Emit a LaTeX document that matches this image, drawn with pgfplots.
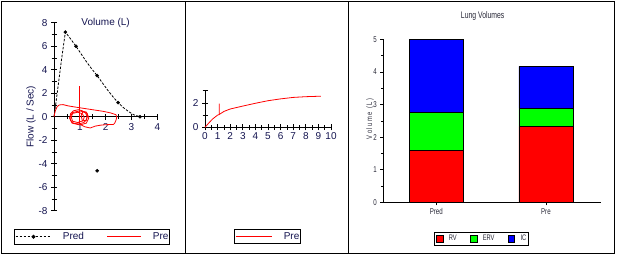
\documentclass[border=0pt]{standalone}
\usepackage{pgfplots}
\pgfplotsset{compat=1.18}
\usepackage{fontspec}
\setmainfont{Liberation Sans}
\newfontfamily\narrowfont[FakeStretch=0.72]{Liberation Sans}
\newfontfamily\spacedfont[FakeStretch=0.72,LetterSpace=20]{Liberation Sans}
\definecolor{txt}{RGB}{20,20,80}
\definecolor{txtb}{RGB}{40,40,55}
\definecolor{pr}{RGB}{255,0,0}
\definecolor{pg}{RGB}{0,255,0}
\definecolor{pb}{RGB}{0,0,255}
\begin{document}
\begin{tikzpicture}
\useasboundingbox (0pt,0pt) rectangle (617pt,255pt);
\draw[line width=1pt] (1.5pt,1.5pt) rectangle (614.5pt,253.5pt);
\draw[line width=1pt] (185.5pt,1.5pt) -- (185.5pt,253.5pt);
\draw[line width=1pt] (348.5pt,1.5pt) -- (348.5pt,253.5pt);

% ---------------- Panel 1: flow-volume ----------------
\begin{axis}[
  at={(54pt,44.3pt)}, anchor=south west, scale only axis,
  width=103.3pt, height=188pt,
  xmin=0, xmax=4, ymin=-8, ymax=8,
  axis lines=middle, axis line style={-,black,line width=0.8pt},
  xtick={1,2,3,4}, minor xtick={0.5,1.5,2.5,3.5},
  ytick={-8,-6,...,8}, minor ytick={-7,-5,...,7},
  hide obscured x ticks=false, hide obscured y ticks=false,
  tick align=center, major tick length=6pt, minor tick length=5pt,
  tick style={black,line width=0.8pt},
  ticklabel style={font=\fontsize{10}{12}\selectfont, text=txt},
  /pgf/number format/assume math mode=true,
  every axis title shift=0pt,
  title={Volume (L)},
  title style={at={(axis description cs:0.5,1)}, anchor=center, yshift=-0.5pt,
    font=\fontsize{10}{12}\selectfont, text=txt},
  ylabel={Flow (L / Sec)},
  every axis y label/.style={at={(axis description cs:-0.2227,0.5)}, rotate=90,
    anchor=center, font=\fontsize{10}{12}\selectfont, text=txt},
  clip=false,
  legend columns=2,
  legend style={at={(axis description cs:-0.387,-0.097)}, anchor=north west,
    draw=black, line width=0.8pt, inner xsep=0.7pt, inner ysep=3pt,
    font=\fontsize{10}{12}\selectfont, text=txt, nodes={inner sep=0pt},
    /tikz/every odd column/.append style={column sep=11pt},
    /tikz/every even column/.append style={column sep=23pt}},
]
\addplot[black, line width=0.8pt, dash pattern=on 2.5pt off 1.5pt, forget plot]
  coordinates {(0,0) (0.1,1.6) (0.2,3.3) (0.3,5.0) (0.44,7.2) (0.65,6.6) (0.85,6.0)
  (1.05,5.35) (1.25,4.7) (1.45,4.1) (1.67,3.5) (1.9,2.8) (2.1,2.2) (2.3,1.65)
  (2.48,1.2) (2.7,0.75) (2.9,0.42) (3.1,0.15) (3.33,0)};
\addplot[black, only marks, mark=*, mark size=1.6pt,
  legend image code/.code={\draw[black,line width=0.8pt,dash pattern=on 2.5pt off 1.5pt] (0pt,0pt) -- (36pt,0pt);
    \fill[black] (18pt,0pt) circle (1.6pt);}]
  coordinates {(0.44,7.2) (0.85,6.0) (1.67,3.5) (2.48,1.2) (3.33,0) (1.67,-4.6)};
\addlegendentry{Pred}
\addplot[pr, line width=0.8pt,
  legend image code/.code={\draw[pr,line width=0.8pt] (0pt,0pt) -- (34pt,0pt);}]
  coordinates {(0,0) (0.05,0.5) (0.12,0.85) (0.2,1.0) (0.35,1.03) (0.55,0.92)
  (0.8,0.83) (1.0,0.76) (1.3,0.66) (1.6,0.56) (1.9,0.46) (2.2,0.32) (2.4,0.17)
  (2.43,-0.05) (2.4,-0.3) (2.35,-0.55) (2.3,-0.66) (2.0,-0.68) (1.8,-0.72)
  (1.6,-0.8) (1.4,-0.96) (1.2,-0.86) (1.05,-0.7) (0.95,-0.45)};
\addlegendentry{Pre}
\addplot[pr, line width=0.8pt, forget plot]
  coordinates {(1.28,0) (1.23,0.3) (1.1,0.5) (0.95,0.6) (0.75,0.5) (0.64,0.25)
  (0.62,0) (0.64,-0.3) (0.75,-0.55) (0.95,-0.62) (1.15,-0.5) (1.26,-0.25) (1.28,0)};
\addplot[pr, line width=0.8pt, forget plot]
  coordinates {(1.17,-0.05) (1.1,0.25) (0.92,0.38) (0.72,0.28) (0.67,-0.05)
  (0.72,-0.38) (0.92,-0.5) (1.12,-0.35) (1.17,-0.05)};
\addplot[pr, line width=0.8pt, forget plot]
  coordinates {(1.35,-0.1) (1.28,0.3) (1.0,0.5) (0.72,0.35) (0.6,-0.1)
  (0.7,-0.55) (1.0,-0.7) (1.25,-0.55) (1.35,-0.1)};
\addplot[pr, line width=0.8pt, forget plot]
  coordinates {(1.3,0.1) (1.25,0.4) (1.12,0.45) (1.05,0.1) (1.1,-0.35) (1.25,-0.3) (1.3,0.1)};
\addplot[pr, line width=0.8pt, forget plot]
  coordinates {(0.97,-0.5) (0.97,2.65)};
\end{axis}

% ---------------- Panel 2: volume-time ----------------
\begin{axis}[
  at={(205pt,127.7pt)}, anchor=south west, scale only axis,
  width=126pt, height=36.6pt,
  xmin=0, xmax=10, ymin=0, ymax=3,
  axis lines=left, axis line style={-,black,line width=0.8pt},
  xtick={0,...,10}, minor xtick={0.5,1.5,...,9.5},
  ytick={0,2}, minor ytick={1,3},
  tick align=center, major tick length=6pt, minor tick length=5pt,
  tick style={black,line width=0.8pt},
  ticklabel style={font=\fontsize{10}{12}\selectfont, text=txt},
  xticklabel style={yshift=1pt},
  /pgf/number format/assume math mode=true,
  clip=false,
  legend style={at={(axis description cs:0.233,-2.78)}, anchor=north west,
    draw=black, line width=0.8pt, inner xsep=0.7pt, inner ysep=3pt,
    font=\fontsize{10}{12}\selectfont, text=txt, nodes={inner sep=0pt},
    /tikz/every odd column/.append style={column sep=11.5pt}},
]
\addplot[pr, line width=0.8pt,
  legend image code/.code={\draw[pr,line width=0.8pt] (0pt,0pt) -- (36pt,0pt);}]
  coordinates {(0,0) (0.3,0.35) (0.6,0.68) (1.0,1.0) (1.13,1.05) (1.13,1.95)
  (1.13,1.05) (1.5,1.3) (2,1.5) (3,1.74) (4,1.97) (5,2.18) (6,2.33) (7,2.45)
  (8,2.51) (9.2,2.55)};
\addlegendentry{Pre}
\end{axis}

% ---------------- Panel 3: lung volumes ----------------
\begin{axis}[
  at={(383.3pt,52.7pt)}, anchor=south west, scale only axis,
  width=217.4pt, height=163pt,
  xmin=-0.483, xmax=1.5, ymin=0, ymax=5,
  ybar stacked, bar width=54pt,
  axis lines=left, axis line style={-,black,line width=0.8pt},
  xtick={0,1}, xticklabels={Pred,Pre},
  ytick={0,...,5}, minor ytick={0.5,1.5,...,4.5},
  tick align=outside, major tick length=3pt, minor tick length=2pt,
  tick style={black,line width=0.6pt},
  ticklabel style={font=\fontsize{8.5}{10}\narrowfont, text=txtb},
  /pgf/number format/assume math mode=true,
  every axis title shift=0pt,
  title={Lung Volumes},
  title style={at={(axis description cs:0.457,1.143)}, anchor=center,
    font=\fontsize{9.5}{11}\narrowfont, text=txtb},
  ylabel={Volume (L)},
  every axis y label/.style={at={(axis description cs:-0.061,0.513)}, rotate=90,
    anchor=center, font=\fontsize{8}{9.6}\spacedfont, text=txtb},
  legend columns=3,
  legend style={at={(axis description cs:0.2346,-0.18)}, anchor=north west,
    draw=black, line width=0.8pt, inner xsep=1.7pt, inner ysep=3.3pt,
    font=\fontsize{8}{9.6}\narrowfont, text=txtb, nodes={inner sep=0pt},
    /tikz/every odd column/.append style={column sep=5.5pt},
    /tikz/every even column/.append style={column sep=13.5pt}},
]
\addplot[fill=pr, draw=black, line width=0.6pt,
  legend image code/.code={\draw[fill=pr,draw=black,line width=0.6pt] (0pt,-3.2pt) rectangle (6.4pt,3.2pt);}]
  coordinates {(0,1.6) (1,2.33)};
\addlegendentry{RV}
\addplot[fill=pg, draw=black, line width=0.6pt,
  legend image code/.code={\draw[fill=pg,draw=black,line width=0.6pt] (0pt,-3.2pt) rectangle (6.4pt,3.2pt);}]
  coordinates {(0,1.15) (1,0.55)};
\addlegendentry{ERV}
\addplot[fill=pb, draw=black, line width=0.6pt,
  legend image code/.code={\draw[fill=pb,draw=black,line width=0.6pt] (0pt,-3.2pt) rectangle (6.4pt,3.2pt);}]
  coordinates {(0,2.25) (1,1.29)};
\addlegendentry{IC}
\end{axis}
\end{tikzpicture}
\end{document}
